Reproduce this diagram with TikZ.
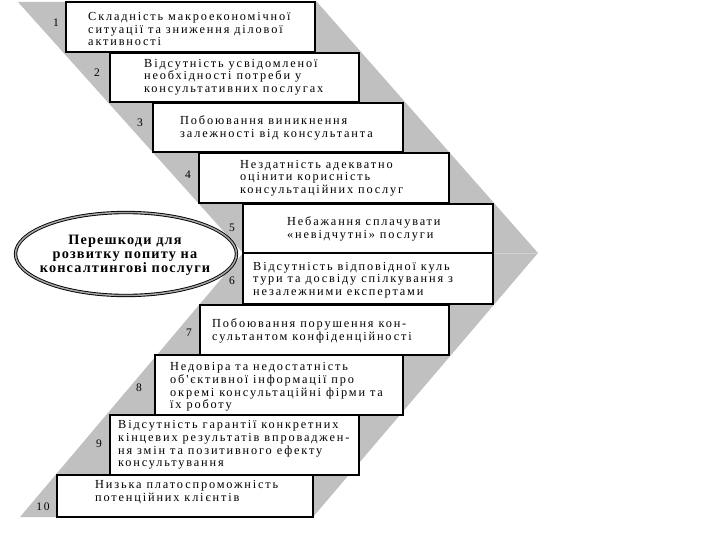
\documentclass[tikz,border=0pt]{standalone}
\usepackage{fontspec}
\usetikzlibrary{shapes.geometric}
\setmainfont{Liberation Serif}
\newfontfamily\boxfont{Liberation Serif}[LetterSpace=15]
\newfontfamily\ellfont{Liberation Serif}[LetterSpace=8]
\definecolor{chevgray}{HTML}{C0C0C0}
\begin{document}
\begin{tikzpicture}[x=1pt,y=-1pt,
  bx/.style={draw=black,line width=1.6pt,fill=white,inner sep=0pt},
  txt/.style={anchor=west,align=left,inner sep=0pt,font=\boxfont\fontsize{12.3}{12.6}\selectfont},
  num/.style={inner sep=0pt,font=\fontsize{11.5}{12}\selectfont},
  ell/.style={ellipse,draw=black,line width=0.9pt,double=gray!70,double distance=1.5pt,fill=white,minimum width=221pt,minimum height=83pt,inner sep=0pt},
  elltxt/.style={align=center,inner sep=0pt,font=\ellfont\bfseries\fontsize{14.3}{14}\selectfont}]
\useasboundingbox (0,0) rectangle (720,540);
% chevron background
\fill[chevgray] (18,2) -- (317,2) -- (538,253) -- (313,517) -- (20,517) -- (243,253) -- cycle;
\coordinate (notch) at (243,253);
\coordinate (tip) at (538,253);
\draw[white!82!black,line width=0.6pt] (notch) -- (tip);
% boxes
\node[bx,minimum width=249pt,minimum height=50pt] (b1) at (190.5,27) {};
\node[bx,minimum width=249pt,minimum height=49pt] (b2) at (234.5,77.5) {};
\node[bx,minimum width=250pt,minimum height=49pt] (b3) at (278,127.5) {};
\node[bx,minimum width=250pt,minimum height=50pt] (b4) at (324,178) {};
\node[bx,minimum width=250pt,minimum height=49pt] (b5) at (368,228.5) {};
\node[bx,minimum width=250pt,minimum height=51pt] (b6) at (368,278.5) {};
\node[bx,minimum width=249pt,minimum height=50pt] (b7) at (324.5,330) {};
\node[bx,minimum width=248pt,minimum height=60pt] (b8) at (279,385) {};
\node[bx,minimum width=249pt,minimum height=60pt] (b9) at (234.5,445) {};
\node[bx,minimum width=256pt,minimum height=42pt] (b10) at (185,496) {};
% texts
\node[txt] (t1) at (88,29) {Складність макроекономічної\\ситуації та зниження ділової\\активності};
\node[txt] (t2) at (144,77) {Відсутність усвідомленої\\необхідності потреби у\\консультативних послугах};
\node[txt] (t3) at (180,128) {Побоювання виникнення\\залежності від консультанта};
\node[txt] (t4) at (240,178) {Нездатність адекватно\\оцінити корисність\\консультаційних послуг};
\node[txt] (t5) at (287,229) {Небажання сплачувати\\«невідчутні» послуги};
\node[txt] (t6) at (253,280) {Відсутність відповідної куль\\тури та досвіду спілкування з\\незалежними експертами};
\node[txt] (t7) at (212,331) {Побоювання порушення кон-\\сультантом конфіденційності};
\node[txt] (t8) at (170,387) {Недовіра та недостатність\\об'єктивної інформації про\\окремі консультаційні фірми та\\їх роботу};
\node[txt] (t9) at (118,445) {Відсутність гарантії конкретних\\кінцевих результатів впроваджен-\\ня змін та позитивного ефекту\\консультування};
\node[txt] (t10) at (95,492) {Низька платоспроможність\\потенційних клієнтів};
% numbers
\node[num] (n1) at (56,23) {1};
\node[num] (n2) at (97,73) {2};
\node[num] (n3) at (140,123) {3};
\node[num] (n4) at (188,175) {4};
\node[num] (n5) at (232,228) {5};
\node[num] (n6) at (232,281) {6};
\node[num] (n7) at (189,333) {7};
\node[num] (n8) at (139,388) {8};
\node[num] (n9) at (99,444) {9};
\node[num] (n10) at (43,507) {1\,0};
% ellipse
\node[ell] (e) at (126,254) {};
\node[elltxt] (et) at (125,255) {Перешкоди для\\розвитку попиту на\\консалтингові послуги};
\end{tikzpicture}
\end{document}
